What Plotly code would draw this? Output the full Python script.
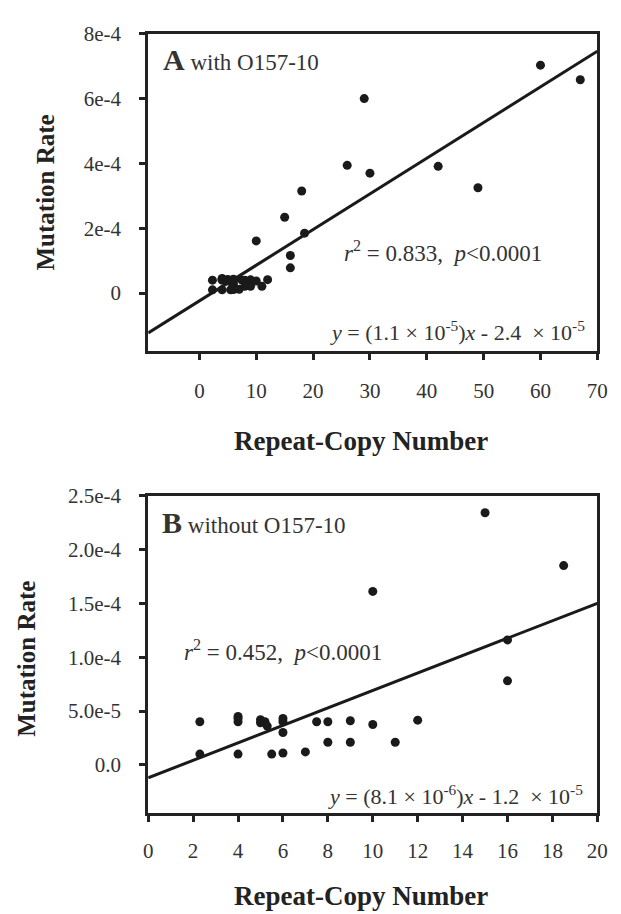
import numpy as np
import plotly.graph_objects as go

W, H = 621, 914

# ---------------- data ----------------
# Panel B (without O157-10)
copy_b = [2.3, 2.3, 4, 4, 4, 4, 5, 5, 5.2, 5.3, 5.5, 6, 6, 6, 6, 7, 7.5, 8, 8,
          9, 9, 10, 10, 11, 12, 15, 16, 16, 18.5]
rate_b = [4.0e-5, 1.0e-5, 4.5e-5, 4.3e-5, 4.0e-5, 1.0e-5, 4.2e-5, 3.9e-5, 4.0e-5,
          3.6e-5, 1.0e-5, 4.3e-5, 4.0e-5, 3.0e-5, 1.1e-5, 1.2e-5, 4.0e-5, 4.0e-5,
          2.1e-5, 4.1e-5, 2.1e-5, 3.75e-5, 1.61e-4, 2.1e-5, 4.15e-5, 2.34e-4,
          1.16e-4, 7.8e-5, 1.85e-4]
# Additional loci present only in panel A (with O157-10)
copy_extra = [18, 26, 29, 30, 42, 49, 60, 67]
rate_extra = [3.15e-4, 3.94e-4, 6.0e-4, 3.70e-4, 3.91e-4, 3.25e-4, 7.03e-4, 6.58e-4]
copy_a = copy_b + copy_extra
rate_a = rate_b + rate_extra

# regression fits (from the printed equations)
slope_a, icpt_a = 1.1e-5, -2.4e-5
slope_b, icpt_b = 8.1e-6, -1.2e-5

xrange_a = [-9, 70]
yrange_a = [-1.8e-4, 8e-4]
xrange_b = [0, 20]
yrange_b = [-4.5e-5, 2.5e-4]

xticks_a = [0, 10, 20, 30, 40, 50, 60, 70]
yticks_a = [0, 2e-4, 4e-4, 6e-4, 8e-4]
yticktext_a = ["0", "2e-4", "4e-4", "6e-4", "8e-4"]
xticks_b = [0, 2, 4, 6, 8, 10, 12, 14, 16, 18, 20]
yticks_b = [0, 5e-5, 1e-4, 1.5e-4, 2e-4, 2.5e-4]
yticktext_b = ["0.0", "5.0e-5", "1.0e-4", "1.5e-4", "2.0e-4", "2.5e-4"]

# ---------------- layout helpers ----------------
def px(x):
    return x / W

def py(y):
    return 1 - y / H

FONT = "Liberation Serif, Times New Roman, serif"
INK = "#1a1a1a"

fig = go.Figure()

fig.add_trace(go.Scatter(x=copy_a, y=rate_a, mode="markers", xaxis="x", yaxis="y",
                         marker=dict(size=9, color=INK), showlegend=False))
lx_a = np.array(xrange_a, dtype=float)
fig.add_trace(go.Scatter(x=lx_a, y=slope_a * lx_a + icpt_a, mode="lines", xaxis="x", yaxis="y",
                         line=dict(color=INK, width=3), showlegend=False))

fig.add_trace(go.Scatter(x=copy_b, y=rate_b, mode="markers", xaxis="x2", yaxis="y2",
                         marker=dict(size=9, color=INK), showlegend=False))
lx_b = np.array(xrange_b, dtype=float)
fig.add_trace(go.Scatter(x=lx_b, y=slope_b * lx_b + icpt_b, mode="lines", xaxis="x2", yaxis="y2",
                         line=dict(color=INK, width=3), showlegend=False))

axis_common = dict(showline=True, linewidth=3, linecolor="#222", mirror=True,
                   ticks="outside", ticklen=6, tickwidth=3, tickcolor="#222",
                   showgrid=False, zeroline=False,
                   tickfont=dict(family=FONT, size=21, color="#333"))

xdom = [px(147), px(608)]
fig.update_layout(
    width=W, height=H,
    margin=dict(l=0, r=0, t=0, b=0),
    paper_bgcolor="white", plot_bgcolor="white",
    xaxis=dict(domain=xdom, anchor="y", range=xrange_a, tickvals=xticks_a,
               ticklabelstandoff=12, **axis_common),
    yaxis=dict(domain=[py(344), py(22)], anchor="x", range=yrange_a,
               tickvals=yticks_a, ticktext=yticktext_a, ticklabelstandoff=14, **axis_common),
    xaxis2=dict(domain=xdom, anchor="y2", range=xrange_b, tickvals=xticks_b,
                ticklabelstandoff=10, **axis_common),
    yaxis2=dict(domain=[py(812), py(490)], anchor="x2", range=yrange_b,
                tickvals=yticks_b, ticktext=yticktext_b, ticklabelstandoff=14, **axis_common),
)

def ann(text, x, y, xanchor="center", yanchor="middle", size=22, angle=0, color="#333"):
    fig.add_annotation(text=text, x=px(x), y=py(y), xref="paper", yref="paper",
                       xanchor=xanchor, yanchor=yanchor, showarrow=False, textangle=angle,
                       font=dict(family=FONT, size=size, color=color))

# axis titles
ann("<b>Mutation Rate</b>", 42, 183, size=25, angle=-90, color="#222")
ann("<b>Repeat-Copy Number</b>", 365, 435, size=27, color="#222")
ann("<b>Mutation Rate</b>", 22, 655, size=25, angle=-90, color="#222")
ann("<b>Repeat-Copy Number</b>", 365, 896, size=27, color="#222")

# panel labels
ann("<b><span style='font-size:30px'>A</span></b> with O157-10", 160, 48, xanchor="left", size=23)
ann("<b><span style='font-size:30px'>B</span></b> without O157-10", 159, 517, xanchor="left", size=23)

# statistics
ann("<i>r</i><sup>2</sup> = 0.833,  <i>p</i>&lt;0.0001", 346, 243, xanchor="left", size=23)
ann("<i>y</i> = (1.1 × 10<sup>-5</sup>)<i>x</i> - 2.4  × 10<sup>-5</sup>", 597, 323,
    xanchor="right", size=22)
ann("<i>r</i><sup>2</sup> = 0.452,  <i>p</i>&lt;0.0001", 182, 647, xanchor="left", size=23)
ann("<i>y</i> = (8.1 × 10<sup>-6</sup>)<i>x</i> - 1.2  × 10<sup>-5</sup>", 595, 793,
    xanchor="right", size=22)

fig.write_html(
    "out.html",
    config={"displayModeBar": False},
    post_script="document.body.style.margin='0';document.body.style.overflow='hidden';",
)
